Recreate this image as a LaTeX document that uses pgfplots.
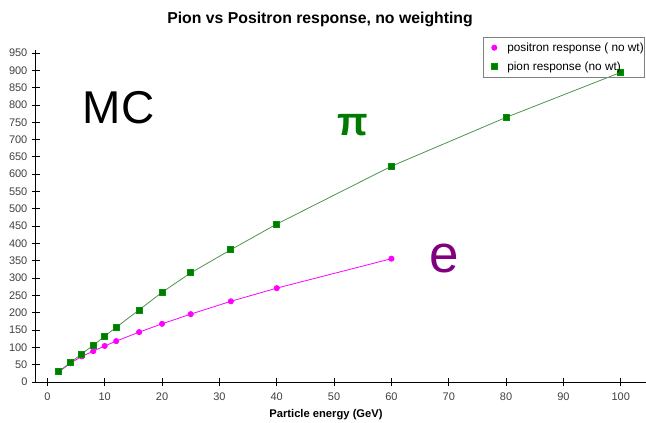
\documentclass[border=0pt]{standalone}
\usepackage{fontspec}
\setmainfont{Liberation Sans}
\usepackage{pgfplots}
\pgfplotsset{compat=1.18}

\definecolor{pionmark}{HTML}{007A00}
\definecolor{pionline}{HTML}{4E944E}
\definecolor{posmark}{HTML}{FF00FF}
\definecolor{tickgray}{HTML}{404040}
\definecolor{epurple}{HTML}{800080}

% response vs beam energy, no weighting
\pgfplotstableread{
E   resp
2   29
4   54
6   74
8   89
10  104
12  118
16  144
20  168
25  196
32  233
40  271
60  356
}\positron

\pgfplotstableread{
E   resp
2   30
4   56
6   81
8   106
10  132
12  158
16  208
20  259
25  315
32  382
40  456
60  623
80  764
100 894
}\pion

\begin{document}
\begin{tikzpicture}
\useasboundingbox (0pt,0pt) rectangle (646pt,423pt);
\begin{axis}[
  at={(35.9pt,41pt)}, anchor=south west,
  scale only axis, width=610.1pt, height=332.5pt,
  xmin=-2, xmax=104.4, ymin=0, ymax=960,
  axis x line=bottom, axis y line=left,
  axis line style={-, black, line width=0.8pt},
  xtick={0,10,...,100}, ytick={0,50,...,950},
  tick align=center, major tick length=8pt,
  tick style={black, line width=0.8pt},
  ticklabel style={font=\fontsize{11}{13}\selectfont, text=tickgray},
  xticklabel style={yshift=-3pt},
  yticklabel style={xshift=-1pt},
  /pgf/number format/assume math mode=true,
  clip=false,
  legend cell align=left,
  legend image code/.code={%
    \path[draw=none, fill=none] (0pt,0pt) -- (24pt,0pt);
    \draw[#1] plot[only marks] coordinates {(11pt,0pt)};},
  legend style={at={(axis description cs:0.733,1.0376)}, anchor=north west,
    draw=gray, fill=none, font=\fontsize{11.8}{14}\selectfont,
    nodes={font=\fontsize{11.8}{14}\selectfont, inner sep=0pt,
      text height=10pt, text depth=3pt},
    inner xsep=0pt, inner ysep=4pt, row sep=6pt, column sep=0pt},
]
\addplot[posmark, line width=0.8pt, mark=*, mark size=2.6pt,
  mark options={fill=posmark, draw=posmark}]
  table[x=E, y=resp] {\positron};
\addlegendentry{positron response ( no wt)}
\addplot[pionline, line width=0.8pt, mark=square*, mark size=3pt,
  mark options={fill=pionmark, draw=pionmark!80!green}]
  table[x=E, y=resp] {\pion};
\addlegendentry{pion response (no wt)}
\end{axis}

% titles and annotations
\node[font=\fontsize{15.8}{18}\selectfont\bfseries] at (320pt,404pt)
  {Pion vs Positron response, no weighting};
\node[font=\fontsize{11.2}{13}\selectfont\bfseries] at (326pt,8.5pt)
  {Particle energy (GeV)};
\node[inner sep=0pt, font=\fontsize{46}{50}\selectfont] at (118.5pt,315pt) {MC};
\node[inner sep=0pt, text=pionmark, font=\fontsize{40}{44}\selectfont\bfseries]
  at (353.2pt,297.5pt) {π};
\node[inner sep=0pt, text=epurple, font=\fontsize{53}{56}\selectfont]
  at (444.2pt,164.5pt) {e};
\end{tikzpicture}
\end{document}
